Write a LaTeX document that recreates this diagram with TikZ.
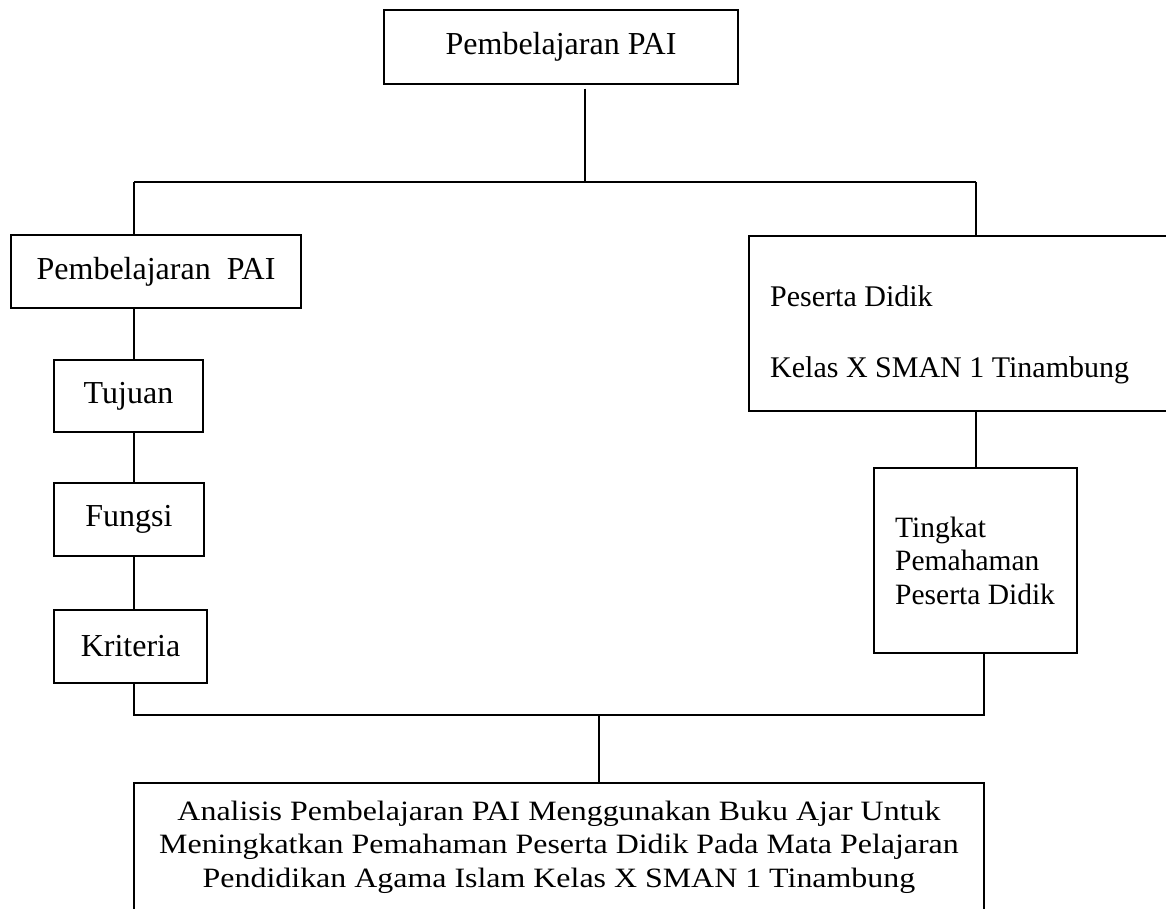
\documentclass[tikz,border=0pt]{standalone}
\usepackage{fontspec}
\setmainfont{Liberation Serif}
\newfontfamily\widefont[FakeStretch=1.14]{Liberation Serif}
\begin{document}
\begin{tikzpicture}[x=1pt,y=-1pt,
  box/.style={draw, line width=1.3pt, inner sep=0pt, anchor=center, font=\fontsize{32}{38}\selectfont},
  conn/.style={line width=1.3pt},
  txt/.style={inner sep=0pt, font=\fontsize{30}{36}\selectfont}]
\useasboundingbox (0,0) rectangle (1166,909);
\clip (0,0) rectangle (1166,909);
% boxes
\node[box, minimum width=354pt, minimum height=74pt] (top) at (561,47) {Pembelajaran PAI};
\node[box, minimum width=290pt, minimum height=73pt] (pl) at (156,271.5) {Pembelajaran\ \ PAI};
\node[box, minimum width=149pt, minimum height=72pt] (tj) at (128.5,396) {Tujuan};
\node[box, minimum width=150pt, minimum height=73pt] (fg) at (129,519.5) {Fungsi};
\node[box, minimum width=153pt, minimum height=73pt] (kr) at (130.5,646.5) {Kriteria};
\node[box, minimum width=436pt, minimum height=175pt] (pd) at (967,323.5) {};
\node[box, minimum width=203pt, minimum height=185pt] (tp) at (975.5,560.5) {};
\node[box, minimum width=850pt, minimum height=157pt] (an) at (559,861.5) {};
% texts
\node[txt, anchor=base west] (pd1) at (770,306) {Peserta Didik};
\node[txt, anchor=base west] (pd2) at (770,377) {Kelas X SMAN 1 Tinambung};
\node[txt, anchor=base west, align=left, font=\fontsize{29.5}{33.5}\selectfont] (tp1) at (895,604) {Tingkat\\Pemahaman\\Peserta Didik};
\node[txt, anchor=base, align=center, font=\widefont\fontsize{28}{33.5}\selectfont] (an1) at (559,887) {Analisis Pembelajaran PAI Menggunakan Buku Ajar Untuk\\Meningkatkan Pemahaman Peserta Didik Pada Mata Pelajaran\\Pendidikan Agama Islam Kelas X SMAN 1 Tinambung};
% junctions
\coordinate (jT) at (585,182);
\coordinate (jL) at (134,182);
\coordinate (jR) at (976,182);
\coordinate (bL) at (134,715);
\coordinate (bR) at (984,715);
\coordinate (bM) at (599,715);
% connectors
\draw[conn] ([xshift=24pt,yshift=-4pt]top.south) -- (jT);
\draw[conn] (jL) -- (jR);
\draw[conn] (jL) -- (jL |- pl.north);
\draw[conn] (jR) -- (jR |- pd.north);
\draw[conn] (pl.south -| jL) -- (tj.north -| jL);
\draw[conn] (tj.south -| jL) -- (fg.north -| jL);
\draw[conn] (fg.south -| jL) -- (kr.north -| jL);
\draw[conn] (kr.south -| jL) -- (bL) -- (bR) -- (tp.south -| bR);
\draw[conn] (pd.south -| jR) -- (tp.north -| jR);
\draw[conn] (bM) -- (an.north -| bM);
\end{tikzpicture}
\end{document}
